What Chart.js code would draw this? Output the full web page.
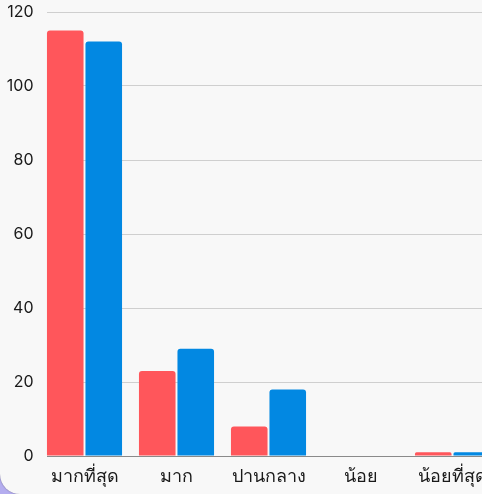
<!DOCTYPE html>
<html>
<head>
<meta charset="utf-8">
<script src="https://cdn.jsdelivr.net/npm/chart.js@4/dist/chart.umd.min.js"></script>
<style>
  html, body { margin: 0; padding: 0; width: 482px; height: 494px; overflow: hidden; background: #b4adef; }
  .card {
    position: absolute; left: 0; top: 0; width: 520px; height: 494px;
    background: #f8f8f8; border-bottom-left-radius: 20px;
    box-shadow: 0 0 1.5px rgba(0,0,0,0.45);
    overflow: hidden;
  }
  .wrap { position: absolute; left: 0; top: 0; width: 500px; height: 494px; }
</style>
</head>
<body>
<div class="card"><div class="wrap"><canvas id="c"></canvas></div></div>
<script>
// Survey answers per satisfaction level, two groups
const categories = ['มากที่สุด', 'มาก', 'ปานกลาง', 'น้อย', 'น้อยที่สุด'];
const groupA = [115, 23, 8, 0, 1];
const groupB = [112, 29, 18, 0, 1];
const yTicks = [0, 20, 40, 60, 80, 100, 120];

const BG = '#f8f8f8';
const FONT = "Inter, 'Noto Sans', 'DejaVu Sans', sans-serif";

// keeps the horizontal grid starting where the first bar begins
const gridInset = {
  id: 'gridInset',
  beforeDatasetsDraw(chart) {
    const { ctx, chartArea } = chart;
    ctx.save();
    ctx.fillStyle = BG;
    ctx.fillRect(chartArea.left - 1, chartArea.top - 2, 9.5, chartArea.bottom - chartArea.top + 4);
    ctx.restore();
  }
};

new Chart(document.getElementById('c'), {
  type: 'bar',
  data: {
    labels: categories,
    datasets: [
      { data: groupA, backgroundColor: '#ff565b', borderRadius: 3, borderSkipped: 'bottom',
        categoryPercentage: 0.837, barPercentage: 0.95 },
      { data: groupB, backgroundColor: '#0288e2', borderRadius: 3, borderSkipped: 'bottom',
        categoryPercentage: 0.837, barPercentage: 0.95 }
    ]
  },
  options: {
    responsive: true,
    maintainAspectRatio: false,
    animation: false,
    layout: { padding: { top: 12, right: 1.5, left: 0, bottom: 0 } },
    plugins: { legend: { display: false }, tooltip: { enabled: false } },
    scales: {
      x: {
        grid: { display: false, drawTicks: false },
        border: { display: true, color: '#8a8a8a', width: 1 },
        ticks: { color: '#1a1a1a', font: { family: FONT, size: 18 }, padding: 10, maxRotation: 0, autoSkip: false },
        afterFit(scale) { scale.height = 38; }
      },
      y: {
        min: 0, max: 120,
        afterBuildTicks(scale) { scale.ticks = yTicks.map(v => ({ value: v })); },
        grid: { color: '#cfcfcf', lineWidth: 1, drawTicks: false },
        border: { display: false },
        ticks: { color: '#1a1a1a', font: { family: FONT, size: 16, lineHeight: 0.8 }, padding: 5 },
        afterFit(scale) { scale.width = 38.5; scale.paddingTop = 0; scale.paddingBottom = 0; }
      }
    }
  },
  plugins: [gridInset]
});
</script>
</body>
</html>
